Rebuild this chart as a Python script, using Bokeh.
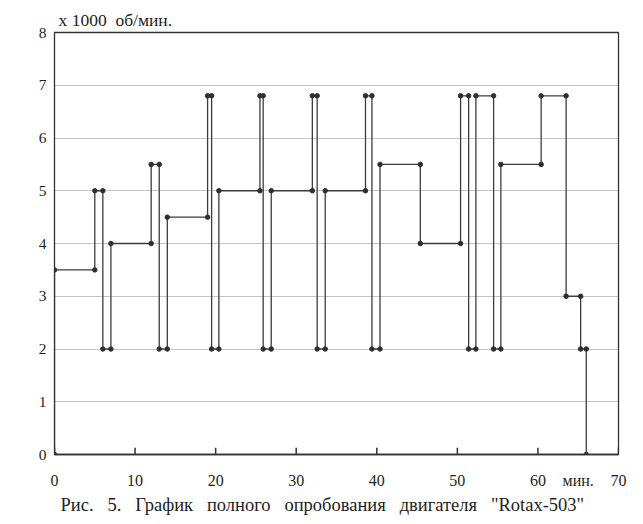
from bokeh.plotting import figure
from bokeh.models import Range1d, FixedTicker, Title
from bokeh.embed import file_html
from bokeh.resources import INLINE

# Moments (min) at which the engine speed was changed
switch_times = [0, 5, 6, 7, 12, 13, 14, 19, 19.5, 20.4, 25.5, 25.9, 26.9, 32, 32.6,
                33.6, 38.6, 39.4, 40.4, 45.4, 50.4, 51.4, 52.3, 54.5, 55.4, 60.4,
                63.5, 65.3, 66]
# Speed level (x 1000 rpm) held from each moment until the next
speed_levels = [3.5, 5, 2, 4, 5.5, 2, 4.5, 6.8, 2, 5, 6.8, 2, 5, 6.8, 2,
                5, 6.8, 2, 5.5, 4, 6.8, 2, 6.8, 2, 5.5, 6.8,
                3, 2, 0]
x_ticks = [0, 10, 20, 30, 40, 50, 60, 70]
y_ticks = [0, 1, 2, 3, 4, 5, 6, 7, 8]
x_unit_pos = 65
y_title = "x 1000\u00a0\u00a0об/мин."
x_unit = "мин."
SP = "\u00a0\u00a0\u00a0"
caption = SP.join(["Рис.", "5.", "График", "полного", "опробования", "двигателя", '"Rotax-503"'])

# step path: start at (0,0), then hold each level until next switch
xs = [switch_times[0]]
ys = [0]
mx, my = [switch_times[0]], [0]
for i in range(len(speed_levels) - 1):
    xs += [switch_times[i], switch_times[i + 1]]
    ys += [speed_levels[i], speed_levels[i]]
    mx += [switch_times[i], switch_times[i + 1]]
    my += [speed_levels[i], speed_levels[i]]
xs.append(switch_times[-1])
ys.append(speed_levels[-1])
mx.append(switch_times[-1])
my.append(speed_levels[-1])

FONT = "Liberation Serif"
TXT = "#1e1e1e"
AX = "#333333"

p = figure(width=635, height=516, output_backend="svg", toolbar_location=None,
           x_range=Range1d(0, 70), y_range=Range1d(0, 8),
           min_border_left=54, min_border_right=17, min_border_top=32,
           min_border_bottom=60)
p.background_fill_color = "white"
p.border_fill_color = "white"
p.outline_line_color = AX
p.outline_line_width = 1.3

p.xgrid.visible = False
p.ygrid.ticker = FixedTicker(ticks=y_ticks)
p.ygrid.grid_line_color = "#8a8a8a"
p.ygrid.grid_line_dash = "1 1"
p.ygrid.grid_line_width = 1

# x axis: labels (with the unit "мин." between 60 and 70); inner tick marks drawn below
p.xaxis.ticker = FixedTicker(ticks=x_ticks + [x_unit_pos])
p.xaxis.major_label_overrides = {x_unit_pos: x_unit}
p.xaxis.major_tick_in = 0
p.xaxis.major_tick_out = 0
p.xaxis.minor_tick_line_color = None
p.xaxis.axis_line_color = AX
p.xaxis.axis_line_width = 1.3
p.xaxis.major_label_text_font = FONT
p.xaxis.major_label_text_font_size = "16px"
p.xaxis.major_label_text_color = TXT
p.xaxis.major_label_standoff = 17

p.yaxis.ticker = FixedTicker(ticks=y_ticks)
p.yaxis.major_label_text_font = FONT
p.yaxis.major_label_text_font_size = "15.5px"
p.yaxis.major_label_text_color = TXT
p.yaxis.minor_tick_line_color = None
p.yaxis.axis_line_color = AX
p.yaxis.major_tick_in = 0
p.yaxis.major_tick_out = 0
p.yaxis.major_label_standoff = 8

# short inward tick marks on the bottom edge at the x ticks
tick_len = 0.13
p.segment(x0=x_ticks, y0=[0] * len(x_ticks), x1=x_ticks, y1=[tick_len] * len(x_ticks),
          line_color=AX, line_width=1.5)

p.line(xs, ys, line_color="#3c3c3c", line_width=1.3)
p.scatter(mx, my, marker="circle", size=4.5, fill_color="#2e2e2e", line_color="#2e2e2e")

p.add_layout(Title(text=y_title, text_font=FONT, text_font_size="17.5px",
                   text_color=TXT, align="left", offset=4, standoff=6,
                   text_font_style="normal"), "above")
p.add_layout(Title(text=caption, text_font=FONT, text_font_size="18.5px",
                   text_color=TXT, align="left", offset=6, standoff=3,
                   text_font_style="normal"), "below")

open("out.html", "w").write(file_html(p, INLINE))
